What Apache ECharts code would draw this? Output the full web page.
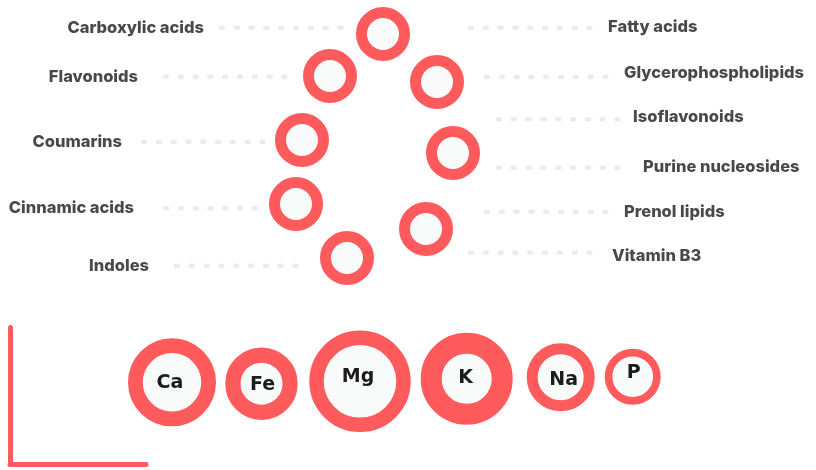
<!DOCTYPE html>
<html>
<head>
<meta charset="utf-8">
<script src="https://cdn.jsdelivr.net/npm/echarts@6/dist/echarts.min.js"></script>
<style>html,body{margin:0;padding:0;background:#fff}#c{width:816px;height:470px}</style>
</head>
<body>
<div id="c"></div>
<script>
// ring of compound classes (positions, chart units)
const ringX = [383, 330, 302, 296, 347, 437, 453, 426];
const ringY = [34, 76, 140, 204, 258, 82, 153, 229];

// labels
const labelNames = ['Carboxylic acids','Flavonoids','Coumarins','Cinnamic acids','Indoles',
  'Fatty acids','Glycerophospholipids','Isoflavonoids','Purine nucleosides','Prenol lipids','Vitamin B3'];
const labelSide = ['left','left','left','left','left','right','right','right','right','right','right'];
const labelX = [204, 138, 122, 134, 149, 608, 624, 633, 643, 624, 612];
const labelY = [27.7, 76.7, 141.7, 208.3, 265.7, 26.7, 73.3, 116.7, 167.3, 211.7, 256];
const dotFrom = [221, 165, 143, 165, 176, 470, 486, 498, 498, 486, 470];
const dotTo = [343, 287, 265, 256, 297, 592, 607, 618, 618, 607, 592];
const dotY = [27.7, 76.7, 141.7, 208.3, 265.7, 27.7, 77, 119.3, 167.7, 211.7, 252.7];

// minerals
const mineralNames = ['Ca','Fe','Mg','K','Na','P'];
const mineralX = [172, 261.5, 360, 466.7, 560.7, 632.7];
const mineralY = [382.3, 383.7, 381.3, 378.7, 377.3, 376.7];
const mineralOuter = [44, 36.2, 50.7, 46, 34, 28];
const mineralInner = [29.2, 21, 36.3, 25, 23, 20.3];

const RED = '#ff5a5c';
const FILL = '#f9fbfb';
const FONT = 'Inter';

const labelOffset = [[-2,1],[1,1],[-2,-4],[-1,-1],[3,3],[1,-4]];

const series = [];
labelNames.forEach((n, i) => {
  series.push({
    type: 'line', xAxisIndex: 0, yAxisIndex: 0, silent: true,
    showSymbol: false, symbol: 'none', animation: false,
    data: [[dotFrom[i], dotY[i]], [dotTo[i], dotY[i]]],
    lineStyle: { color: '#ebebeb', width: 4.5, type: [2, 12.8], cap: 'round', opacity: 1 }
  });
});
series.push({
  type: 'scatter', xAxisIndex: 0, yAxisIndex: 0, silent: true, animation: false,
  symbol: 'circle', symbolSize: 43,
  itemStyle: { color: FILL, borderColor: RED, borderWidth: 11, opacity: 1 },
  data: ringX.map((x, i) => [x, ringY[i]])
});
series.push({
  type: 'scatter', xAxisIndex: 0, yAxisIndex: 0, silent: true, animation: false,
  symbolSize: 0,
  data: labelNames.map((n, i) => ({
    value: [labelX[i], labelY[i]], name: n,
    label: { show: true, position: labelSide[i], distance: 0, formatter: n,
      fontFamily: FONT, fontWeight: 800, fontSize: 16.5, color: '#1a1a1a' }
  }))
});
series.push({
  type: 'scatter', xAxisIndex: 0, yAxisIndex: 0, silent: true, animation: false,
  symbol: 'circle',
  data: mineralNames.map((n, i) => ({
    value: [mineralX[i], mineralY[i]], name: n,
    symbolSize: mineralOuter[i] + mineralInner[i],
    itemStyle: { color: FILL, borderColor: RED, borderWidth: mineralOuter[i] - mineralInner[i], opacity: 1 },
    label: { show: true, position: 'inside', formatter: n, offset: labelOffset[i],
      fontFamily: 'DejaVu Sans', fontWeight: 700, fontSize: 19, color: '#1c1c1c' }
  }))
});
series.push({ type: 'scatter', xAxisIndex: 1, yAxisIndex: 1, data: [], silent: true });

const hiddenAxis = { show: false };
const lAxis = {
  type: 'value', min: 0, max: 1,
  axisLine: { show: true, onZero: false, lineStyle: { color: RED, width: 5, cap: 'round' } },
  axisTick: { show: false }, axisLabel: { show: false }, splitLine: { show: false }
};

const chart = echarts.init(document.getElementById('c'), null, { renderer: 'canvas' });
chart.setOption({
  backgroundColor: '#ffffff',
  animation: false,
  grid: [
    { left: 0, top: 0, width: 816, height: 470 },
    { left: 10, top: 327.5, width: 136, height: 136.5 }
  ],
  xAxis: [
    Object.assign({ type: 'value', min: 0, max: 816, gridIndex: 0 }, hiddenAxis),
    Object.assign({ gridIndex: 1 }, lAxis)
  ],
  yAxis: [
    Object.assign({ type: 'value', min: 0, max: 470, inverse: true, gridIndex: 0 }, hiddenAxis),
    Object.assign({ gridIndex: 1 }, lAxis)
  ],
  series: series
});
</script>
</body>
</html>
